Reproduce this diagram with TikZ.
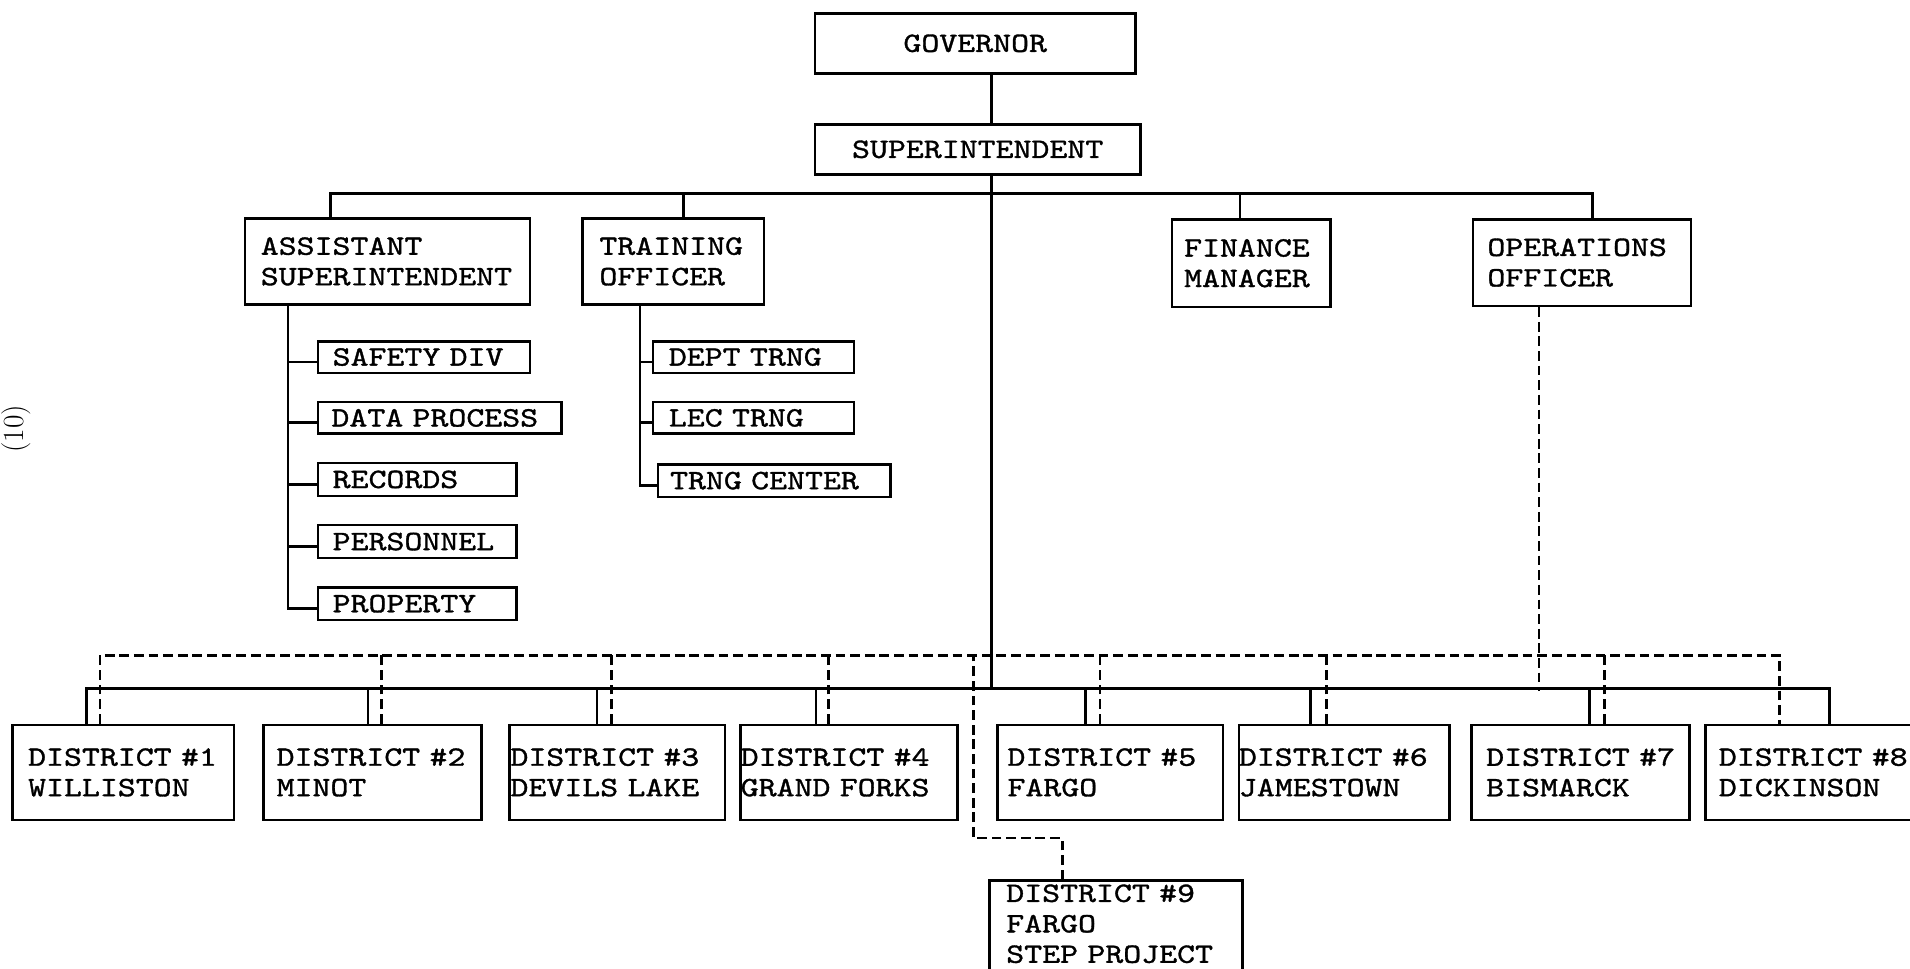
\documentclass[tikz,border=0pt]{standalone}
\usepackage{fontspec}
\usepackage{tikz}
\newfontfamily\typewr{lmmono10-regular.otf}[FakeStretch=1.22, FakeBold=1.2]
\tikzset{
    every node/.style={font=\fontsize{23}{25}\selectfont\typewr},
    box/.style={draw, rectangle, line width=2.2pt, anchor=north west, align=left, inner ysep=0pt},
    wire/.style={line width=2.2pt},
    dline/.style={line width=2.2pt, dash pattern=on 8pt off 4pt}
}
\begin{document}
\begin{tikzpicture}[x=1pt, y=-1pt]
    \useasboundingbox (0,0) rectangle (1568,795);
    % page number at the margin
    \node[rotate=90, anchor=north, inner sep=0pt, font=\fontsize{24}{24}\selectfont] (pagenum) at (1,352) {(10)};

    % head of the department
    \node[box, align=center, text width=239pt, inner xsep=12pt, minimum height=49pt] (gov) at (668,10) {GOVERNOR};
    \node[box, align=center, text width=243pt, inner xsep=12pt, minimum height=41pt] (sup) at (668,101) {SUPERINTENDENT};

    % staff
    \node[box, text width=208pt, inner xsep=13pt, minimum height=71pt] (asst) at (200,178) {ASSISTANT\\SUPERINTENDENT};
    \node[box, text width=121pt, inner xsep=14pt, minimum height=71pt] (train) at (477,178) {TRAINING\\OFFICER};
    \node[box, text width=110pt, inner xsep=10pt, minimum height=72pt] (fin) at (961,179) {FINANCE\\MANAGER};
    \node[box, text width=155pt, inner xsep=12pt, minimum height=71pt] (ops) at (1208,179) {OPERATIONS\\OFFICER};

    % divisions
    \node[box, text width=150pt, inner xsep=12pt, minimum height=26pt] (safety) at (260,279) {SAFETY~DIV};
    \node[box, text width=178pt, inner xsep=11pt, minimum height=26pt] (data) at (260,329) {DATA~PROCESS};
    \node[box, text width=139pt, inner xsep=12pt, minimum height=27pt] (rec) at (260,379) {RECORDS};
    \node[box, text width=139pt, inner xsep=12pt, minimum height=27pt] (pers) at (260,430) {PERSONNEL};
    \node[box, text width=139pt, inner xsep=12pt, minimum height=27pt] (prop) at (260,481) {PROPERTY};

    \node[box, text width=139pt, inner xsep=13pt, minimum height=26pt] (dept) at (535,279) {DEPT~TRNG};
    \node[box, text width=139pt, inner xsep=13pt, minimum height=26pt] (lec) at (535,329) {LEC~TRNG};
    \node[box, text width=171pt, inner xsep=10pt, minimum height=27pt] (ctr) at (539,380) {TRNG~CENTER};

    % districts
    \node[box, text width=156pt, inner xsep=13pt, minimum height=78pt] (d1) at (9,594) {DISTRICT~\#1\\WILLISTON};
    \node[box, text width=157pt, inner xsep=11pt, minimum height=78pt] (d2) at (215,594) {DISTRICT~\#2\\MINOT};
    \node[box, text width=175pt, inner xsep=1pt, minimum height=78pt] (d3) at (417,594) {DISTRICT~\#3\\DEVILS~LAKE};
    \node[box, text width=178pt, inner xsep=0pt, minimum height=78pt] (d4) at (607,594) {DISTRICT~\#4\\GRAND~FORKS};
    \node[box, text width=169pt, inner xsep=8pt, minimum height=78pt] (d5) at (818,594) {DISTRICT~\#5\\FARGO};
    \node[box, text width=173pt, inner xsep=0pt, minimum height=78pt] (d6) at (1016,594) {DISTRICT~\#6\\JAMESTOWN};
    \node[box, text width=155pt, inner xsep=12pt, minimum height=78pt] (d7) at (1207,594) {DISTRICT~\#7\\BISMARCK};
    \node[box, text width=158pt, inner xsep=11pt, minimum height=78pt] (d8) at (1399,594) {DISTRICT~\#8\\DICKINSON};
    \node[box, text width=180pt, inner xsep=14pt, inner ysep=3pt, text depth=90pt] (d9) at (811,722) {DISTRICT~\#9\\FARGO\\STEP~PROJECT};

    % chain of command
    \coordinate (hub) at (814,565);
    \draw[wire] (gov.south -| hub) -- (sup.north -| hub);
    \draw[wire] (sup.south -| hub) -- (hub);

    \draw[wire] ([xshift=71.5pt]asst.north west) -- ++(0,-19) -| ([xshift=99.5pt]ops.north west);
    \draw[wire] ([xshift=84pt]train.north west) -- ++(0,-19);
    \draw[wire] ([xshift=57pt]fin.north west) -- ++(0,-20);

    \draw[wire] ([xshift=36.5pt]asst.south west) |- ([yshift=-4pt]prop.west);
    \foreach \b in {safety, data, rec, pers}
        \draw[wire] ([yshift=-4pt]\b.west) -- ++(-23.5,0);

    \draw[wire] ([xshift=48.5pt]train.south west) |- ([yshift=-4pt]ctr.west);
    \foreach \b in {dept, lec}
        \draw[wire] ([yshift=-4pt]\b.west) -- ++(-9.5,0);

    \draw[wire] ([xshift=62pt]d1.north west) -- ++(0,-29) -| ([xshift=103pt]d8.north west);
    \foreach \d/\s in {d2/87, d3/73, d4/63, d5/73, d6/60, d7/98}
        \draw[wire] ([xshift=\s pt]\d.north west) -- ++(0,-29);

    % operational line
    \draw[dline] ([xshift=73pt]d1.north west) -- ++(0,-56) -| ([xshift=62pt]d8.north west);
    \foreach \d/\s in {d2/98, d3/85, d4/73, d5/85, d6/73, d7/110}
        \draw[dline] ([xshift=\s pt]\d.north west) -- ++(0,-56);
    \draw[dline] ([xshift=55.5pt]ops.south west) -- ++(0,315);
    \draw[dline] ([xshift=61pt]d9.north west) -- ++(0,-34) -| ++(-73,-150);
\end{tikzpicture}
\end{document}
